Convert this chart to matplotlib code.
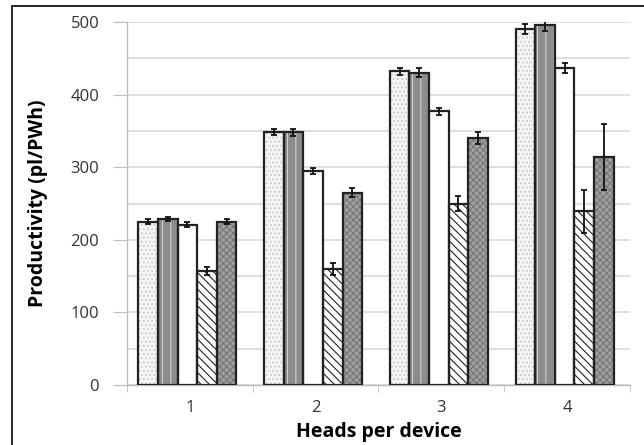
import numpy as np
import matplotlib
matplotlib.use("Agg")
import matplotlib.pyplot as plt
from matplotlib.patches import Rectangle

plt.rcParams['font.family'] = ['Open Sans', 'DejaVu Sans']
plt.rcParams['hatch.linewidth'] = 0.8

heads = ['1', '2', '3', '4']
# five series per group (reading left to right inside a group)
s1 = [225, 348, 432, 490]
s2 = [229, 348, 430, 496]
s3 = [221, 295, 377, 437]
s4 = [157, 160, 250, 239]
s5 = [225, 265, 340, 314]
e1 = [3, 4, 5, 7]
e2 = [3, 5, 6, 8]
e3 = [3, 4, 5, 7]
e4 = [6, 8, 11, 29]
e5 = [3, 6, 8, 46]

series = [s1, s2, s3, s4, s5]
errors = [e1, e2, e3, e4, e5]
faces = ['#f4f4f4', '#8c8c8c', 'white', 'white', '#a0a0a0']
hatches = ['....', '||', None, '\\\\\\\\', 'xxxxx']
hatch_cols = ['#c8c8c8', '#cfcfcf', 'black', '#222222', '#777777']

fig = plt.figure(figsize=(6.44, 4.45), dpi=100)
ax = fig.add_axes([127/644, 1-385/445, 503/644, 363/445])

x = np.arange(len(heads))
w = 0.156
for i, (vals, errs) in enumerate(zip(series, errors)):
    pos = x + (i - 2) * w - 0.02
    ax.bar(pos, vals, w, color=faces[i], edgecolor=hatch_cols[i],
           hatch=hatches[i], linewidth=0, zorder=3)
    ax.bar(pos, vals, w, color='none', edgecolor='#222222', linewidth=1.6, zorder=4)
    ax.errorbar(pos, vals, yerr=errs, fmt='none', ecolor='#111111',
                elinewidth=1.3, capsize=2, capthick=1.3, zorder=5)

ax.set_xlim(-0.5, 3.5)
ax.set_ylim(0, 500)
ax.set_yticks(range(0, 501, 100))
ax.set_yticks(range(0, 501, 50), minor=True)
ax.grid(axis='y', which='both', color='#d9d9d9', linewidth=1.2, zorder=0)
ax.set_xticks(x)
ax.set_xticklabels(heads)
ax.set_xticks(np.arange(-0.5, 4, 1), minor=True)
ax.tick_params(axis='x', which='major', length=0, pad=11, labelsize=12, colors='#333333')
ax.tick_params(axis='x', which='minor', length=5, color='#bbbbbb', direction='out')
ax.tick_params(axis='y', which='major', length=10, color='#bbbbbb', labelsize=12,
               colors='#333333', pad=10)
ax.tick_params(axis='y', which='minor', length=0)
for sp in ['top', 'right']:
    ax.spines[sp].set_visible(False)
for sp in ['left', 'bottom']:
    ax.spines[sp].set_color('#bbbbbb')
    ax.spines[sp].set_linewidth(1.0)

ax.set_ylabel('Productivity (pl/PWh)', fontsize=14, fontweight='bold', labelpad=16)
ax.set_xlabel('Heads per device', fontsize=14, fontweight='bold', labelpad=4)

# outer frame (cropped at right/bottom in the original)
fig.patches.append(Rectangle((12/644, -0.1), 1.2, 1.1 - 6/445,
                             transform=fig.transFigure, fill=False,
                             edgecolor='black', linewidth=1.2))

fig.savefig('out.png', dpi=100)
